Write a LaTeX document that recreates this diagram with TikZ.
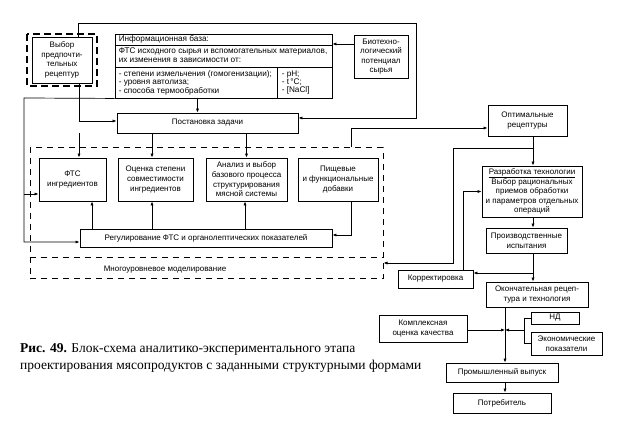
\documentclass[tikz,border=0pt]{standalone}
\usepackage{fontspec}
\setmainfont{Liberation Serif}
\setsansfont{Liberation Sans}
\usetikzlibrary{arrows.meta}

\begin{document}
\begin{tikzpicture}[x=1pt,y=-1pt,
		box/.style={draw,line width=0.9pt,inner sep=1pt,align=center,font=\sffamily\fontsize{8}{9.6}\selectfont},
		txt/.style={inner sep=0pt,align=left,font=\sffamily\fontsize{8.2}{8.3}\selectfont},
		arr/.style={-{Latex[length=4pt,width=3.2pt]},line width=0.7pt},
		ln/.style={line width=0.7pt},
		dbox/.style={line width=1pt,dash pattern=on 6pt off 5pt}]
		\useasboundingbox (0,0) rectangle (629,438);
		% left part
		\node [box,minimum width=60pt,minimum height=46pt] (pref) at (62,60) {Выбор\\предпочти-\\тельных\\рецептур};
		\draw [line width=1.3pt,dash pattern=on 7pt off 4pt] (27,34) rectangle (97,86);
		\node [draw,line width=0.9pt,minimum width=217pt,minimum height=64pt,inner sep=0pt] (info) at (223.5,66) {};
		\draw [ln] ([yshift=-12pt]info.north west) -- ([yshift=-12pt]info.north east);
		\draw [ln] ([yshift=-34pt]info.north west) -- ([yshift=-34pt]info.north east);
		\draw [ln] ([xshift=163pt,yshift=-34pt]info.north west) -- ([xshift=163pt]info.south west);
		\node [txt,anchor=west] (infohead) at ([xshift=4pt,yshift=-6pt]info.north west) {Информационная база:};
		\node [txt,anchor=north west] (infofts) at ([xshift=4pt,yshift=-14.5pt]info.north west) {ФТС исходного сырья и вспомогательных материалов,\\их изменения в зависимости от:};
		\node [txt,anchor=north west] (infodeg) at ([xshift=4pt,yshift=-37pt]info.north west) {- степени измельчения (гомогенизации);\\- уровня автолиза;\\- способа термообработки};
		\node [txt,anchor=north west] (infoph) at ([xshift=167pt,yshift=-37pt]info.north west) {- pH;\\- t\,°C;\\- [NaCl]};
		\node [box,minimum width=54pt,minimum height=43pt] (bio) at (381,56.5) {Биотехно-\\логический\\потенциал\\сырья};
		\node [box,minimum width=181pt,minimum height=20pt] (task) at (207.5,123) {Постановка задачи};
		% modeling block
		\node [draw,dbox,minimum width=353pt,minimum height=131pt,inner sep=0pt] (model) at (206.5,213.5) {};
		\draw [dbox] ([yshift=-110pt]model.north west) -- ([yshift=-110pt]model.north east);
		\node [box,draw=none] (modlabel) at (165,270) {Многоуровневое моделирование};
		\node [box,minimum width=67pt,minimum height=43pt] (fts) at (72.5,179.5) {ФТС\\ингредиентов};
		\node [box,minimum width=75pt,minimum height=43pt] (compat) at (155.5,179.5) {Оценка степени\\совместимости\\ингредиентов};
		\node [box,minimum width=81pt,minimum height=43pt] (anal) at (246.5,179.5) {Анализ и выбор\\базового процесса\\структурирования\\мясной системы};
		\node [box,minimum width=80pt,minimum height=43pt] (addit) at (338,179.5) {Пищевые\\и функциональные\\добавки};
		\node [box,minimum width=252pt,minimum height=18pt] (reg) at (206,238) {Регулирование ФТС и органолептических показателей};
		% right part
		\node [box,minimum width=79pt,minimum height=31pt] (opt) at (527.5,120.5) {Оптимальные\\рецептуры};
		\node [box,minimum width=100pt,minimum height=51pt] (tech) at (532,191.5) {\underline{Разработка технологии}\\Выбор рациональных\\приемов обработки\\и параметров отдельных\\операций};
		\node [box,minimum width=81pt,minimum height=25pt] (trial) at (526.5,240.5) {Производственные\\испытания};
		\node [box,minimum width=75pt,minimum height=18pt] (korr) at (435.5,279) {Корректировка};
		\node [box,minimum width=102pt,minimum height=25pt] (fin) at (537,294.5) {Окончательная рецеп-\\тура и технология};
		\node [box,minimum width=88pt,minimum height=27pt] (qual) at (423,328.5) {Комплексная\\оценка качества};
		\node [box,minimum width=48pt,minimum height=12pt,inner sep=0pt] (nd) at (555,318) {НД};
		\node [box,minimum width=71pt,minimum height=23pt] (econ) at (566.5,343.5) {Экономические\\показатели};
		\node [box,minimum width=112pt,minimum height=19pt] (ind) at (502,372.5) {Промышленный выпуск};
		\node [box,minimum width=98pt,minimum height=20pt] (cons) at (502,403) {Потребитель};
		% caption
		\node [anchor=north west,inner sep=0pt,align=left,font=\rmfamily\fontsize{13.5}{17}\selectfont] (caption) at (20,343) {\textbf{Рис. 49.} Блок-схема аналитико-экспериментального этапа\\проектирования мясопродуктов с заданными структурными формами};
		% connectors
		\coordinate (tr) at (416,23);
		\coordinate (ll) at (24,98);
		\draw [arr] ([xshift=16pt]pref.north) |- (tr) |- ([yshift=5pt]task.east);
		\draw [arr] ([xshift=17pt]pref.south) |- ([yshift=2pt]task.west);
		\draw [arr] ([xshift=-10pt]task.north |- info.south) -- ([xshift=-10pt]task.north);
		\draw [arr] ([yshift=12.5pt]bio.west) -- ([yshift=12.5pt]bio.west -| info.east);
		\draw [arr] (info.south west) -- (ll) |- ([yshift=-4pt]reg.west);
		\draw [arr] ([yshift=-14.5pt]fts.west -| ll) -- ([yshift=-14.5pt]fts.west);
		\draw [arr] ([xshift=6.5pt]fts.north |- task.south) -- ([xshift=6.5pt]fts.north);
		\draw [arr] ([xshift=-3.5pt]compat.north |- task.south) -- ([xshift=-3.5pt]compat.north);
		\draw [arr] (anal.north |- task.south) -- (anal.north);
		\draw [arr] ([xshift=19.5pt]fts.south |- reg.north) -- ([xshift=19.5pt]fts.south);
		\draw [arr] ([xshift=-3.5pt]compat.south |- reg.north) -- ([xshift=-3.5pt]compat.south);
		\draw [arr] ([xshift=-1.5pt]anal.south |- reg.north) -- ([xshift=-1.5pt]anal.south);
		\draw [arr] ([xshift=13pt]addit.south) |- ([yshift=3pt]reg.east);
		\draw [arr] ([xshift=144.5pt]model.north) |- ([yshift=-7.5pt]opt.west);
		\coordinate (col) at (533,0);
		\coordinate (br1) at (533,148);
		\coordinate (br2) at (453,263);
		\coordinate (br3) at (533,273);
		\draw [arr] (opt.south -| col) -- (tech.north -| col);
		\draw [arr] (br1) -| (br2) -- (br2 -| model.east);
		\draw [arr] (tech.south -| col) -- (trial.north -| col);
		\draw [arr] (trial.south -| col) -- (fin.north -| col);
		\draw [arr] (br3) -- ([yshift=6pt]korr.east);
		\draw [arr] ([xshift=27.5pt]korr.north) |- (tech.west);
		\coordinate (col2) at (505,0);
		\coordinate (bk) at (524,330);
		\draw [arr] (fin.south -| col2) -- (ind.north -| col2);
		\draw [arr] (ind.south -| col2) -- (cons.north -| col2);
		\draw [arr] ([yshift=-1.5pt]qual.east) -- ([yshift=-1.5pt]qual.east -| col2);
		\draw [ln] (nd.west) -- (nd.west -| bk) -- (econ.west -| bk) -- (econ.west);
		\draw [arr] (bk) -- (bk -| col2);
	\end{tikzpicture}
\end{document}
